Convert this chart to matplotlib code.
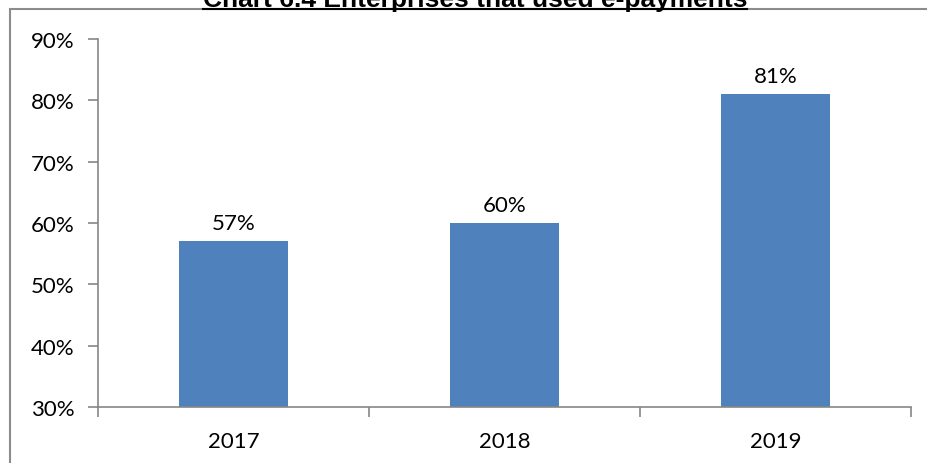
import matplotlib
matplotlib.use("Agg")
import matplotlib.pyplot as plt
from matplotlib.patches import Rectangle
from matplotlib.lines import Line2D

years = ["2017", "2018", "2019"]
shares = [57, 60, 81]
y_ticks = [30, 40, 50, 60, 70, 80, 90]

W, H = 928, 464
fig = plt.figure(figsize=(W / 100, H / 100), dpi=100)

# outer chart frame (runs off the right and bottom edges)
fig.patches.append(Rectangle((10 / W, -0.1), 1.2, (H - 10) / H + 0.1,
                             transform=fig.transFigure, fill=False,
                             edgecolor="#8c8c8c", linewidth=1.5))

ax = fig.add_axes([98 / W, (H - 408) / H, (911 - 98) / W, (408 - 40) / H])
x = range(len(years))
bars = ax.bar(x, shares, width=0.4, color="#4f81bd", zorder=2)

ax.set_xlim(-0.5, len(years) - 0.5)
ax.set_ylim(30, 90)
ax.set_yticks(y_ticks)
ax.set_yticklabels([f"{t}%" for t in y_ticks])
ax.set_xticks(list(x))
ax.set_xticklabels(years)
ax.set_xticks([i - 0.5 for i in range(len(years) + 1)], minor=True)

for s in ["top", "right"]:
    ax.spines[s].set_visible(False)
for s in ["left", "bottom"]:
    ax.spines[s].set_color("#868686")
    ax.spines[s].set_linewidth(1.2)

fs = 16
ax.tick_params(axis="y", direction="out", length=7, width=1.2, color="#868686",
               labelsize=fs, pad=10)
ax.tick_params(axis="x", which="major", length=0, labelsize=fs, pad=17)
ax.tick_params(axis="x", which="minor", direction="out", length=7, width=1.2,
               color="#868686")
for lab in ax.get_xticklabels() + ax.get_yticklabels():
    lab.set_fontfamily("Lato")

for b, v in zip(bars, shares):
    ax.annotate(f"{v}%", (b.get_x() + b.get_width() / 2, v),
                xytext=(0, 6), textcoords="offset points",
                ha="center", va="bottom", fontsize=fs, family="Lato")

# title sits on the top frame line, partly clipped
title = fig.text(475 / W, 1 - 7 / H,
                 "Chart 6.4 Enterprises that used e-payments",
                 ha="center", va="baseline", fontsize=19, fontweight="bold",
                 family="Liberation Sans")
fig.canvas.draw()
bb = title.get_window_extent()
uy = (H - 9.5) / H
fig.lines.append(Line2D([bb.x0 / W, bb.x1 / W], [uy, uy],
                        transform=fig.transFigure, color="black", linewidth=1.5))

fig.savefig("out.png", dpi=100)
